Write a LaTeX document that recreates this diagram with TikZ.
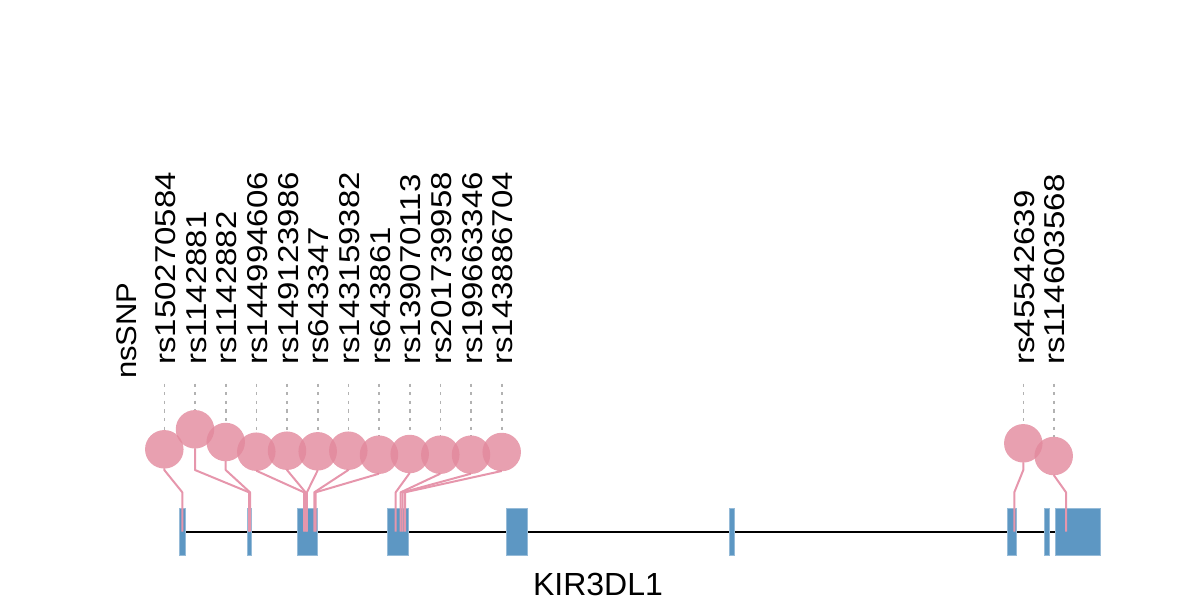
\documentclass[tikz,border=0pt]{standalone}
\usepackage{fontspec}
\setmainfont{Liberation Sans}
\definecolor{pinkc}{RGB}{226,136,156}
\definecolor{stemc}{RGB}{230,150,172}
\definecolor{grayc}{RGB}{178,178,178}
\definecolor{exonc}{RGB}{93,151,195}
\tikzset{
  snpc/.style={circle, fill=pinkc, fill opacity=0.8, draw=none, minimum size=38.5pt, inner sep=0pt},
  stem/.style={draw=stemc, line width=2pt, line join=round},
  dashln/.style={draw=grayc, line width=1.6pt, dash pattern=on 3.3pt off 5.3pt},
  exon/.style={fill=exonc, draw=exonc!65!white, line width=0.8pt},
  geneln/.style={draw=black, line width=2pt},
  lbl/.style={rotate=90, anchor=base west, inner sep=0pt, font=\fontsize{33}{33}\selectfont},
  ttl/.style={rotate=90, anchor=base west, inner sep=0pt, font=\fontsize{31}{31}\selectfont},
  gname/.style={anchor=base, inner sep=0pt, font=\fontsize{32}{32}\selectfont},
}
\begin{document}
\begin{tikzpicture}[x=1pt,y=-1pt]
\useasboundingbox (0,0) rectangle (1200,600);
% gene backbone
\coordinate (ga) at (182,531.5);
\coordinate (gb) at (1078,531.5);
\draw[geneln] (ga) -- (gb);
% exons
\foreach \xa/\xb in {179.3/185, 247.3/251.7, 297.7/317.7, 387.7/408.3, 506.7/527.3, 729.3/734.3, 1007.7/1016, 1044.3/1049.3, 1055.7/1100}
  \path[exon] (\xa,508.3) rectangle (\xb,555);
% SNPs
\foreach \i/\lab/\cx/\cy/\sx in {
  1/rs150270584/164.3/449.3/182.3,
  2/rs1142881/195/429.3/249.0,
  3/rs1142882/225.7/442/250.0,
  4/rs144994606/256.3/451.7/304,
  5/rs149123986/287/450.7/305.5,
  6/rs643347/317.7/451.3/306.9,
  7/rs143159382/348.3/450.7/314.3,
  8/rs643861/379/454.7/315.7,
  9/rs139070113/409.7/454/395.7,
  10/rs201739958/440.3/454.7/400.7,
  11/rs199663346/471/454.7/402.7,
  12/rs143886704/501.7/452/405,
  13/rs45542639/1023.3/443.3/1014.3,
  14/rs114603568/1053.7/456/1066}{
  \pgfmathsetmacro\by{max(470,\cy+19)}
  \coordinate (b\i) at (\cx,\by);
  \coordinate (s\i) at (\sx,492.3);
  \coordinate (g\i) at (\sx,531.5);
  \coordinate (d\i) at (\cx,383.5);
  \coordinate (t\i) at (\cx,\cy+19);
  \draw[stem] (t\i) -- (b\i) -- (s\i) -- (g\i);
  \draw[dashln] (d\i) -- (\cx,\cy-19);
  \node[snpc] (c\i) at (\cx,\cy) {};
  \node[lbl] (l\i) at (\cx+11,365) {\scalebox{1}[0.87]{\lab}};
}
\node[ttl] (title) at (136,379) {\scalebox{1}[0.92]{nsSNP}};
\node[gname] (gene) at (598,595.5) {KIR3DL1};
\end{tikzpicture}
\end{document}
